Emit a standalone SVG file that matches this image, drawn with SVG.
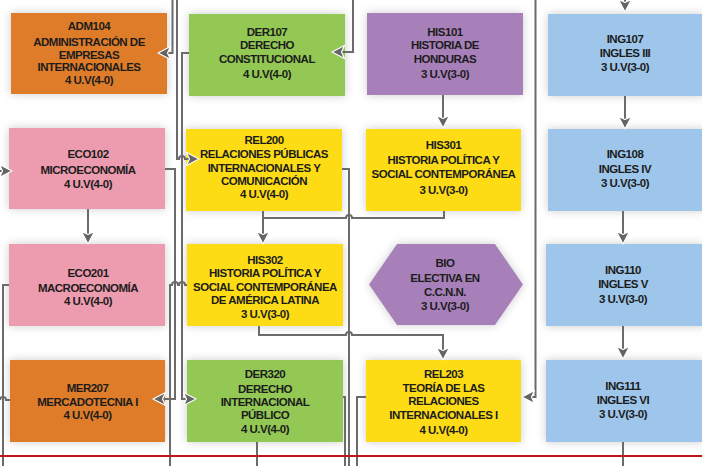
<svg xmlns="http://www.w3.org/2000/svg" width="702" height="466" viewBox="0 0 702 466">
<defs>
<filter id="sh" x="-20%" y="-25%" width="140%" height="150%">
<feDropShadow dx="0" dy="0" stdDeviation="5" flood-color="#000" flood-opacity="0.2"/>
</filter>
<marker id="ar" viewBox="0 0 16 16" refX="14" refY="8" markerWidth="16" markerHeight="16" markerUnits="userSpaceOnUse" orient="auto">
<path d="M1.5,1.5 L14,8 L1.5,14.5 L4.5,8 Z" fill="#646464" stroke="#fff" stroke-width="1.2" stroke-linejoin="round"/>
</marker>
</defs>
<style>
.n{filter:url(#sh)}
.t{font-family:"Liberation Sans",Arial,sans-serif;font-weight:bold;font-size:11.5px;letter-spacing:-0.5px;fill:#1c1c1c;text-anchor:middle}
.or{fill:#DF7B2B}.gr{fill:#92C853}.pu{fill:#A780BA}.bl{fill:#9DC6EA}.pk{fill:#ED9BAF}.ye{fill:#FDDC14}
.c{fill:none;stroke:#6B6B6B;stroke-width:2}
.a{marker-end:url(#ar)}
</style>
<rect width="702" height="466" fill="#fff"/>

<g id="ADM104"><rect class="n or" x="11" y="13" width="156" height="81"/>
<text class="t"><tspan x="89" y="30">ADM104</tspan><tspan x="89" y="45.5">ADMINISTRACIÓN DE</tspan><tspan x="89" y="58.5">EMPRESAS</tspan><tspan x="89" y="71">INTERNACIONALES</tspan><tspan x="89" y="84">4 U.V(4-0)</tspan></text></g>

<g id="DER107"><rect class="n gr" x="189" y="14" width="156" height="82"/>
<text class="t"><tspan x="267" y="36">DER107</tspan><tspan x="267" y="49">DERECHO</tspan><tspan x="267" y="62.5">CONSTITUCIONAL</tspan><tspan x="267" y="78">4 U.V(4-0)</tspan></text></g>

<g id="HIS101"><rect class="n pu" x="367" y="13" width="156" height="82"/>
<text class="t"><tspan x="445" y="36">HIS101</tspan><tspan x="445" y="49">HISTORIA DE</tspan><tspan x="445" y="62.5">HONDURAS</tspan><tspan x="445" y="77.5">3 U.V(3-0)</tspan></text></g>

<g id="ING107"><rect class="n bl" x="548" y="14" width="156" height="82"/>
<text class="t"><tspan x="625" y="42.5">ING107</tspan><tspan x="625" y="57">INGLES III</tspan><tspan x="625" y="71">3 U.V(3-0)</tspan></text></g>

<g id="ECO102"><rect class="n pk" x="9" y="128" width="156" height="81"/>
<text class="t"><tspan x="88" y="157.5">ECO102</tspan><tspan x="88" y="173.5">MICROECONOMÍA</tspan><tspan x="88" y="187.5">4 U.V(4-0)</tspan></text></g>

<g id="REL200"><rect class="n ye" x="186" y="129" width="156" height="82"/>
<text class="t"><tspan x="264" y="144">REL200</tspan><tspan x="264" y="158">RELACIONES PÚBLICAS</tspan><tspan x="264" y="171.5">INTERNACIONALES Y</tspan><tspan x="264" y="185">COMUNICACIÓN</tspan><tspan x="264" y="198">4 U.V(4-0)</tspan></text></g>

<g id="HIS301"><rect class="n ye" x="366" y="129" width="155" height="82"/>
<text class="t"><tspan x="443.5" y="149">HIS301</tspan><tspan x="443.5" y="164">HISTORIA POLÍTICA Y</tspan><tspan x="443.5" y="177.5">SOCIAL CONTEMPORÁNEA</tspan><tspan x="443.5" y="193.5">3 U.V(3-0)</tspan></text></g>

<g id="ING108"><rect class="n bl" x="548" y="129" width="156" height="82"/>
<text class="t"><tspan x="625" y="157.5">ING108</tspan><tspan x="625" y="172.5">INGLES IV</tspan><tspan x="625" y="187">3 U.V(3-0)</tspan></text></g>

<g id="ECO201"><rect class="n pk" x="9" y="244" width="156" height="82"/>
<text class="t"><tspan x="88" y="277">ECO201</tspan><tspan x="88" y="291.5">MACROECONOMÍA</tspan><tspan x="88" y="305">4 U.V(4-0)</tspan></text></g>

<g id="HIS302"><rect class="n ye" x="187" y="244" width="156" height="82"/>
<text class="t"><tspan x="265" y="263.5">HIS302</tspan><tspan x="265" y="277">HISTORIA POLÍTICA Y</tspan><tspan x="265" y="291">SOCIAL CONTEMPORÁNEA</tspan><tspan x="265" y="304">DE AMÉRICA LATINA</tspan><tspan x="265" y="317.5">3 U.V(3-0)</tspan></text></g>

<g id="BIO"><polygon class="n pu" points="369,284.5 397,244 495,244 523,284.5 495,325 397,325"/>
<text class="t"><tspan x="445" y="267">BIO</tspan><tspan x="445" y="282">ELECTIVA EN</tspan><tspan x="445" y="296">C.C.N.N.</tspan><tspan x="445" y="310">3 U.V(3-0)</tspan></text></g>

<g id="ING110"><rect class="n bl" x="546" y="244" width="158" height="82"/>
<text class="t"><tspan x="623" y="274">ING110</tspan><tspan x="623" y="288">INGLES V</tspan><tspan x="623" y="302.5">3 U.V(3-0)</tspan></text></g>

<g id="MER207"><rect class="n or" x="10" y="360" width="155" height="82"/>
<text class="t"><tspan x="87.5" y="392">MER207</tspan><tspan x="87.5" y="406">MERCADOTECNIA I</tspan><tspan x="87.5" y="419">4 U.V(4-0)</tspan></text></g>

<g id="DER320"><rect class="n gr" x="187" y="360" width="156" height="82"/>
<text class="t"><tspan x="265" y="377.5">DER320</tspan><tspan x="265" y="392.5">DERECHO</tspan><tspan x="265" y="406">INTERNACIONAL</tspan><tspan x="265" y="419">PÚBLICO</tspan><tspan x="265" y="432.5">4 U.V(4-0)</tspan></text></g>

<g id="REL203"><rect class="n ye" x="366" y="360" width="155" height="82"/>
<text class="t"><tspan x="443.5" y="377.5">REL203</tspan><tspan x="443.5" y="392">TEORÍA DE LAS</tspan><tspan x="443.5" y="405">RELACIONES</tspan><tspan x="443.5" y="418.5">INTERNACIONALES I</tspan><tspan x="443.5" y="433.5">4 U.V(4-0)</tspan></text></g>

<g id="ING111"><rect class="n bl" x="546" y="360" width="158" height="82"/>
<text class="t"><tspan x="623" y="390">ING111</tspan><tspan x="623" y="404">INGLES VI</tspan><tspan x="623" y="418">3 U.V(3-0)</tspan></text></g>

<g id="connectors">
<path class="c a" d="M172.5,0 V53 H158"/>
<path class="c a" d="M177,0 V159 H179 A3,3 0 0 1 185,159 H199"/>
<path class="c a" d="M189,53 H182 V399 H196"/>
<path class="c a" d="M165,169 H175 V399 H153"/>
<path class="c" d="M187,285 H185 A3,3 0 0 0 179,285 H178 A3,3 0 0 0 172,285 H170 V466"/>
<path class="c a" d="M353,0 V52 H332"/>
<path class="c" d="M342,169 H349 V466"/>
<path class="c a" d="M263,211 V244"/>
<path class="c" d="M444,211 V218 H352 A3,3 0 0 0 346,218 H263"/>
<path class="c a" d="M259,326 V335 H346 A3,3 0 0 1 352,335 H443 V360"/>
<path class="c" d="M343,397 H345 V466"/>
<path class="c" d="M366,397 H357 V466"/>
<path class="c a" d="M535.5,0 V397 H522"/>
<path class="c a" d="M443,95 V128"/>
<path class="c a" d="M625,0 V12"/>
<path class="c a" d="M625,96 V129"/>
<path class="c a" d="M623,211 V244"/>
<path class="c a" d="M623,326 V359"/>
<path class="c" d="M623,442 V466"/>
<path class="c a" d="M88,209 V244"/>
<path class="c a" d="M0,171 H12"/>
<path class="c" d="M9,285 H3 V466"/>
<path class="c" d="M0,400 A3,3 0 0 1 6,400 H10"/>
<path class="c" d="M257,442 V466"/>
</g>
<line x1="0" y1="456" x2="702" y2="456" stroke="#C0141C" stroke-width="2"/>
</svg>
